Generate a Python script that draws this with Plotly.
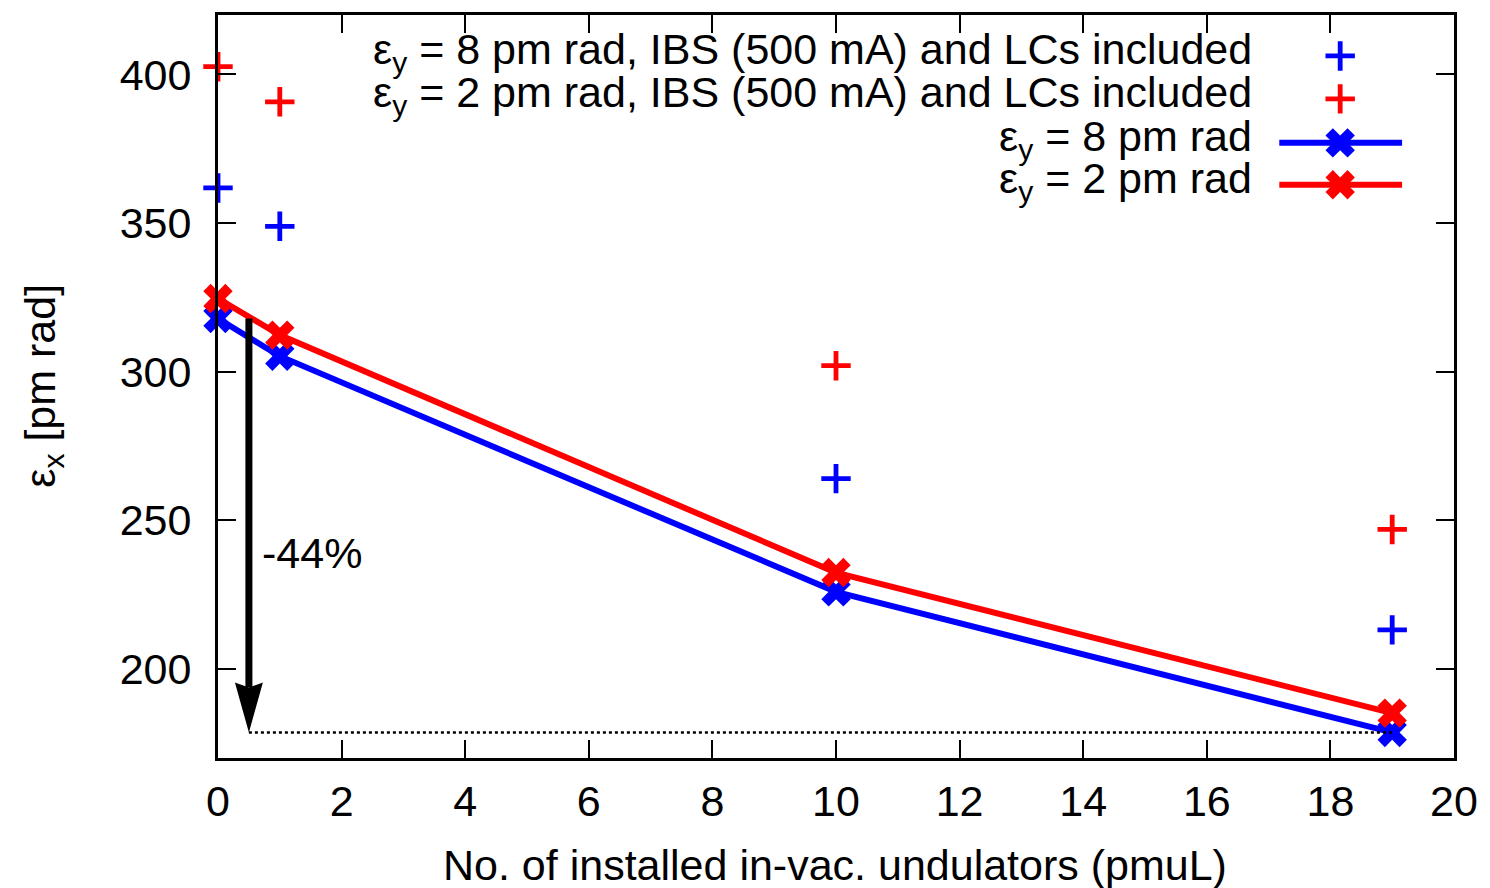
import plotly.graph_objects as go

# ---- data ----
n_und = [0, 1, 10, 19]
ex_8pm = [317.9, 305.2, 225.9, 178.6]
ex_2pm = [324.6, 312.3, 232.4, 185.1]
ex_8pm_ibs = [361.8, 348.9, 264.0, 213.1]
ex_2pm_ibs = [402.6, 390.8, 302.0, 246.9]
x_ticks = [0, 2, 4, 6, 8, 10, 12, 14, 16, 18, 20]
y_ticks = [200, 250, 300, 350, 400]
x_range = [0, 20]
y_range = [170, 420]
arrow_x = 0.5

BLUE = "#0000ff"
RED = "#ff0000"
FONT = "Liberation Sans, Arial, Helvetica, sans-serif"
FS = 43

W, H = 1490, 888
L, R, T, B = 218, 1456, 14, 758
DX = (x_range[1] - x_range[0]) / (R - L)   # data units per pixel (x)
DY = (y_range[1] - y_range[0]) / (B - T)   # data units per pixel (y)


def px(xp):
    return (xp - L) / (R - L)


def py(yp):
    return (B - yp) / (B - T)


fig = go.Figure()

# main curves
fig.add_trace(go.Scatter(x=n_und, y=ex_8pm, mode="lines+markers", cliponaxis=False,
                         line=dict(color=BLUE, width=6),
                         marker=dict(symbol="x", size=26, color=BLUE, line=dict(width=0)),
                         showlegend=False))
fig.add_trace(go.Scatter(x=n_und, y=ex_2pm, mode="lines+markers", cliponaxis=False,
                         line=dict(color=RED, width=6),
                         marker=dict(symbol="x", size=26, color=RED, line=dict(width=0)),
                         showlegend=False))
fig.add_trace(go.Scatter(x=n_und, y=ex_8pm_ibs, mode="markers", cliponaxis=False,
                         marker=dict(symbol="cross-thin", size=21, line=dict(width=4.8, color=BLUE)),
                         showlegend=False))
fig.add_trace(go.Scatter(x=n_und, y=ex_2pm_ibs, mode="markers", cliponaxis=False,
                         marker=dict(symbol="cross-thin", size=21, line=dict(width=4.8, color=RED)),
                         showlegend=False))

# dotted reference line at final value
fig.add_trace(go.Scatter(x=[arrow_x, n_und[-1]], y=[ex_8pm[-1], ex_8pm[-1]], mode="lines",
                         line=dict(color="black", width=2.5, dash="dot"), showlegend=False))

# arrow showing reduction (shaft + elongated notched head)
tip_y = ex_8pm[-1]
head_len = 50 * DY
head_hw = 14 * DX
notch = 5 * DY
fig.add_shape(type="line", xref="x", yref="y", x0=arrow_x, x1=arrow_x,
              y0=ex_8pm[0], y1=tip_y + head_len - notch, line=dict(color="black", width=7))
fig.add_shape(type="path", xref="x", yref="y", fillcolor="black", line=dict(width=0),
              path=(f"M {arrow_x},{tip_y} L {arrow_x - head_hw},{tip_y + head_len} "
                    f"L {arrow_x},{tip_y + head_len - notch} L {arrow_x + head_hw},{tip_y + head_len} Z"))
red_pct = round((ex_8pm[-1] - ex_8pm[0]) / ex_8pm[0] * 100)
fig.add_annotation(x=0.68, y=239, xref="x", yref="y", text=f"{red_pct}%", showarrow=False,
                   xanchor="left", yanchor="middle", font=dict(family=FONT, size=FS, color="black"))

# custom gnuplot-style key (text left, sample right)
key_text = ["ε<sub>y</sub> = 8 pm rad, IBS (500 mA) and LCs included",
            "ε<sub>y</sub> = 2 pm rad, IBS (500 mA) and LCs included",
            "ε<sub>y</sub> = 8 pm rad",
            "ε<sub>y</sub> = 2 pm rad"]
key_rows = [55, 98, 142, 184]
for txt, yr in zip(key_text, key_rows):
    fig.add_annotation(x=px(1256), y=py(yr - 4), xref="paper", yref="paper", text=txt,
                       showarrow=False, xanchor="right", yanchor="middle",
                       font=dict(family=FONT, size=FS, color="black"))
for col, yr in zip([BLUE, RED], key_rows[2:]):
    fig.add_shape(type="line", xref="paper", yref="paper", x0=px(1281), x1=px(1404),
                  y0=py(yr), y1=py(yr), line=dict(color=col, width=6))
fig.add_trace(go.Scatter(x=[px(1342), px(1342)], y=[py(key_rows[0]), py(key_rows[1])],
                         xaxis="x2", yaxis="y2", mode="markers", showlegend=False, cliponaxis=False,
                         marker=dict(symbol="cross-thin", size=21,
                                     line=dict(width=4.8, color=[BLUE, RED]))))
fig.add_trace(go.Scatter(x=[px(1342), px(1342)], y=[py(key_rows[2]), py(key_rows[3])],
                         xaxis="x2", yaxis="y2", mode="markers", showlegend=False, cliponaxis=False,
                         marker=dict(symbol="x", size=26, color=[BLUE, RED], line=dict(width=0))))

# axis titles
fig.add_annotation(x=px(836), y=py(865), xref="paper", yref="paper",
                   text="No. of installed in-vac. undulators (pmuL)", showarrow=False,
                   xanchor="center", yanchor="middle", font=dict(family=FONT, size=FS, color="black"))
fig.add_annotation(x=px(42), y=py(385), xref="paper", yref="paper",
                   text="ε<sub>x</sub> [pm rad]", showarrow=False, textangle=-90,
                   xanchor="center", yanchor="middle", font=dict(family=FONT, size=FS, color="black"))

axis_common = dict(showgrid=False, zeroline=False, showline=True, linewidth=3, linecolor="black",
                   ticks="inside", ticklen=18, tickwidth=2, tickcolor="black", mirror="ticks",
                   tickfont=dict(family=FONT, size=FS, color="black"))

fig.update_layout(
    width=W, height=H,
    margin=dict(l=L, r=W - R, t=T, b=H - B, pad=0),
    paper_bgcolor="white", plot_bgcolor="white",
    showlegend=False,
    xaxis=dict(range=x_range, tickvals=x_ticks, ticklabelstandoff=3, **axis_common),
    yaxis=dict(range=y_range, tickvals=y_ticks, ticklabelstandoff=15, **axis_common),
    xaxis2=dict(range=[0, 1], overlaying="x", visible=False, fixedrange=True),
    yaxis2=dict(range=[0, 1], overlaying="y", visible=False, fixedrange=True),
)

fig.write_html("out.html", config={"displayModeBar": False},
               post_script="document.body.style.margin='0';document.body.style.overflow='hidden';")
